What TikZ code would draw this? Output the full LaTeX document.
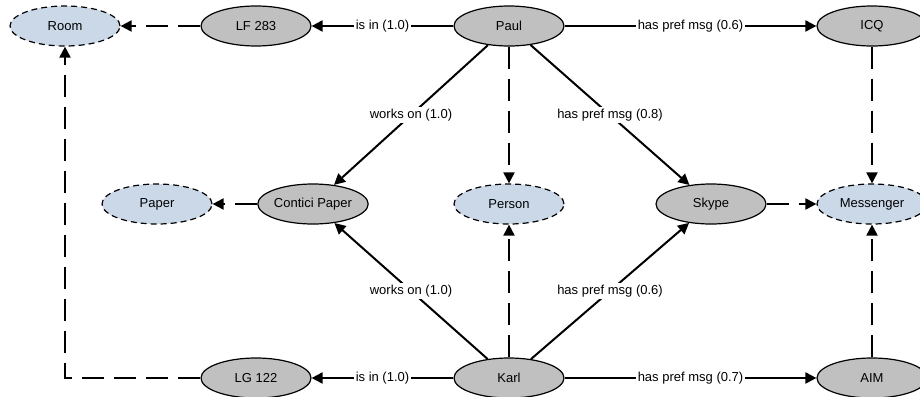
\documentclass[tikz,border=0pt]{standalone}
\usepackage{fontspec}
\setmainfont{Liberation Sans}
\usetikzlibrary{arrows.meta,shapes.geometric}
\definecolor{instfill}{HTML}{C0C0C0}
\definecolor{clsfill}{HTML}{CAD8E8}
\tikzset{
  inst/.style={ellipse, draw=black, fill=instfill, line width=0.6pt,
    minimum width=55pt, minimum height=20pt, inner sep=0pt,
    font=\fontsize{6.5}{8}\selectfont},
  cls/.style={inst, fill=clsfill, dash pattern=on 3pt off 2pt},
  rel/.style={draw=black, line width=1pt,
    -{Triangle[length=5.5pt,width=5.5pt]}},
  typ/.style={rel, dash pattern=on 11pt off 5pt},
  lbl/.style={fill=white, inner sep=0.8pt, font=\fontsize{6.5}{8}\selectfont},
}

\begin{document}
\begin{tikzpicture}[x=0.5pt, y=-0.5pt]
  \useasboundingbox (0,0) rectangle (920,396);
  % classes
  \node[cls] (room) at (65,26) {Room};
  \node[cls] (paper) at (157,204) {Paper};
  \node[cls] (person) at (509,204) {Person};
  \node[cls] (messenger) at (872,204) {Messenger};
  % instances
  \node[inst] (lf) at (256,26) {LF 283};
  \node[inst] (paul) at (509,26) {Paul};
  \node[inst] (icq) at (872,26) {ICQ};
  \node[inst] (contici) at (313,204) {Contici Paper};
  \node[inst] (skype) at (711,204) {Skype};
  \node[inst] (lg) at (256,378) {LG 122};
  \node[inst] (karl) at (509,378) {Karl};
  \node[inst] (aim) at (872,378) {AIM};
  % relations
  \draw[rel] (paul) -- node[lbl] {is in (1.0)} (lf);
  \draw[rel] (paul) -- node[lbl] {has pref msg (0.6)} (icq);
  \draw[rel] (paul) -- node[lbl] {works on (1.0)} (contici);
  \draw[rel] (paul) -- node[lbl] {has pref msg (0.8)} (skype);
  \draw[rel] (karl) -- node[lbl] {is in (1.0)} (lg);
  \draw[rel] (karl) -- node[lbl] {has pref msg (0.7)} (aim);
  \draw[rel] (karl) -- node[lbl] {works on (1.0)} (contici);
  \draw[rel] (karl) -- node[lbl] {has pref msg (0.6)} (skype);
  % types
  \draw[typ] (lf) -- (room);
  \draw[typ] (lg.west) -| (room.south);
  \draw[typ] (contici) -- (paper);
  \draw[typ] (paul) -- (person);
  \draw[typ] (karl) -- (person);
  \draw[typ] (skype) -- (messenger);
  \draw[typ] (icq) -- (messenger);
  \draw[typ] (aim) -- (messenger);
\end{tikzpicture}
\end{document}
